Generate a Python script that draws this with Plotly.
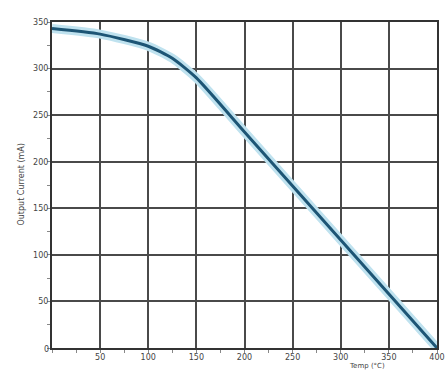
import plotly.graph_objects as go

temp = [0, 50, 100, 125, 150, 200, 250, 300, 350, 400]
value = [343, 337, 324, 311, 290, 232, 174, 116, 58, 0]

x_ticks = [0, 50, 100, 150, 200, 250, 300, 350, 400]
x_labels = ["", "50", "100", "150", "200", "250", "300", "350", "400"]
y_ticks = [0, 50, 100, 150, 200, 250, 300, 350]
y_labels = ["", "50", "100", "150", "200", "250", "300", "350"]

fig = go.Figure()
fig.add_trace(go.Scatter(x=temp, y=value, mode="lines",
                         line=dict(color="#bfe2ef", width=9, shape="spline", smoothing=0.6),
                         hoverinfo="skip", showlegend=False, cliponaxis=False))
fig.add_trace(go.Scatter(x=temp, y=value, mode="lines",
                         line=dict(color="#1d5575", width=3, shape="spline", smoothing=0.6),
                         showlegend=False))

axis_common = dict(showgrid=True, gridcolor="#4a4a4a", gridwidth=1.5,
                   showline=True, linecolor="#333", linewidth=2, mirror=True,
                   zeroline=False, ticks="", automargin=False,
                   tickfont=dict(family="DejaVu Sans", size=8, color="#444"),
                   minor=dict(ticks="outside", ticklen=3, tickcolor="#888", showgrid=False))

fig.update_xaxes(range=[0, 400], tickvals=x_ticks, ticktext=x_labels,
                 **axis_common)
fig.update_xaxes(minor_dtick=25)
fig.update_yaxes(range=[0, 350], tickvals=y_ticks, ticktext=y_labels,
                 **axis_common)
fig.update_yaxes(minor_dtick=25)

fig.add_annotation(text="0", xref="paper", yref="paper", x=0, y=0, xshift=-10, yshift=-8,
                   showarrow=False, font=dict(family="DejaVu Sans", size=8, color="#444"))
fig.add_annotation(text="Temp (°C)", xref="paper", yref="paper", x=0.87, y=0, yshift=-24,
                   showarrow=False, font=dict(family="DejaVu Sans", size=7, color="#444"))
fig.add_annotation(text="Output Current (mA)", xref="paper", yref="paper", x=0, y=0.5,
                   xshift=-38, textangle=-90, showarrow=False,
                   font=dict(family="DejaVu Sans", size=8, color="#444"))

fig.update_layout(width=447, height=376, margin=dict(l=52, r=10, t=22, b=28, autoexpand=False),
                  plot_bgcolor="white", paper_bgcolor="white")
fig.write_html("out.html")
